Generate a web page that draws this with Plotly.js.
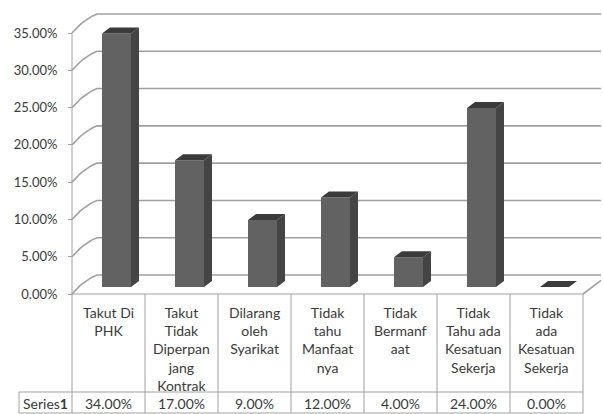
<!DOCTYPE html>
<html>
<head>
<meta charset="utf-8">
<script src="https://cdn.plot.ly/plotly-3.0.1.min.js"></script>
<style>html,body{margin:0;padding:0;background:#fff;}#chart{width:603px;height:414px;}</style>
</head>
<body>
<div id="chart"></div>
<script>
// ---- data ----
const categories = [
  "Takut Di<br>PHK",
  "Takut<br>Tidak<br>Diperpan<br>jang<br>Kontrak",
  "Dilarang<br>oleh<br>Syarikat",
  "Tidak<br>tahu<br>Manfaat<br>nya",
  "Tidak<br>Bermanf<br>aat",
  "Tidak<br>Tahu ada<br>Kesatuan<br>Sekerja",
  "Tidak<br>ada<br>Kesatuan<br>Sekerja"
];
const seriesName = "Series1";
const values = [34, 17, 9, 12, 4, 24, 0];
const yTicks = [0, 5, 10, 15, 20, 25, 30, 35];
const yTickText = yTicks.map(v => v.toFixed(2) + "%");

// ---- geometry helpers (pixel -> data / paper) ----
const W = 603, H = 414;
const PX0 = 72, COL = 73, PY0 = 294, PPU = 7.457;
const xd = px => (px - PX0) / COL - 0.5;
const yd = py => (PY0 - py) / PPU;
const xp = px => px / W;
const yp = py => 1 - py / H;
const ux = px => px / COL;   // pixel length -> x units
const uy = py => py / PPU;   // pixel length -> y units

const BACK_DX = 25, BACK_DY = 19;   // back wall offset
const BAR_DX = 8, BAR_DY = 7;       // bar plane offset
const BAR_W = 29;                   // bar face width px
const DEP_DX = 8, DEP_DY = 6;       // bar depth

const FONT = "Lato, 'Open Sans', sans-serif";
const TXT = "#3a3a3a";
const GRID = "#a0a0a0";
const TLINE = "#a0a0a0";
const T_RIGHT = PX0 + COL * categories.length;

// back-wall gridlines + side-wall curves + right floor edge (first trace, underneath the columns)
const gx = [], gy = [];
yTicks.forEach(v => {
  const by = v + uy(BACK_DY);
  const p0 = [xd(PX0), v], c = [xd(PX0 + 12), v + uy(14)], p2 = [xd(PX0 + BACK_DX), by];
  for (let k = 0; k <= 12; k++) {
    const t = k / 12, a = (1 - t) * (1 - t), b = 2 * (1 - t) * t, d = t * t;
    gx.push(a * p0[0] + b * c[0] + d * p2[0]);
    gy.push(a * p0[1] + b * c[1] + d * p2[1]);
  }
  gx.push(xd(W - 2)); gy.push(by);
  gx.push(null); gy.push(null);
});
gx.push(xd(T_RIGHT), xd(W - 2)); gy.push(0, uy(BACK_DY * (W - 2 - T_RIGHT) / BACK_DX));
const gridTrace = {type: "scatter", mode: "lines", x: gx, y: gy,
  line: {color: GRID, width: 1.6}, hoverinfo: "skip", showlegend: false, connectgaps: false};

// column faces: front, side, top (computed from the values, drawn on the axes)
const fx = [], fy = [], sx = [], sy = [], tx = [], ty = [];
values.forEach((v, i) => {
  const xl = i + ux(BAR_DX) - ux(BAR_W) / 2;
  const xr = i + ux(BAR_DX) + ux(BAR_W) / 2;
  const b = uy(BAR_DY);
  const t = b + v;
  const ddx = ux(DEP_DX), ddy = uy(DEP_DY);
  fx.push(xl, xr, xr, xl, xl, null);
  fy.push(b, b, t, t, b, null);
  sx.push(xr, xr + ddx, xr + ddx, xr, xr, null);
  sy.push(b, b + ddy, t + ddy, t, b, null);
  tx.push(xl, xl + ddx, xr + ddx, xr, xl, null);
  ty.push(t, t + ddy, t + ddy, t, t, null);
});
const frontTrace = {type: "scatter", mode: "lines", x: fx, y: fy, fill: "toself",
  fillcolor: "#626262", line: {width: 0, color: "#626262"}, hoverinfo: "skip", showlegend: false};
const sideTrace = {type: "scatter", mode: "lines", x: sx, y: sy, fill: "toself",
  fillcolor: "#444444", line: {width: 0, color: "#444444"}, hoverinfo: "skip", showlegend: false};
const topTrace = {type: "scatter", mode: "lines", x: tx, y: ty, fill: "toself",
  fillcolor: "#3b3b3b", line: {width: 0, color: "#3b3b3b"}, hoverinfo: "skip", showlegend: false};

// ---- shapes ----
const shapes = [];
shapes.push({type: "line", xref: "x", yref: "y", x0: xd(PX0), x1: xd(PX0), y0: 0, y1: yTicks[yTicks.length - 1],
  line: {color: TLINE, width: 1}});
shapes.push({type: "line", xref: "x", yref: "y", x0: xd(PX0), x1: xd(T_RIGHT), y0: 0, y1: 0,
  line: {color: TLINE, width: 1}});

// table
const T_TOP = 294, T_SEP = 392, T_BOT = 413, T_LEFT = 19;
for (let k = 0; k <= categories.length; k++) {
  const x = PX0 + COL * k;
  shapes.push({type: "line", xref: "paper", yref: "paper", x0: xp(x), x1: xp(x), y0: yp(T_TOP), y1: yp(T_BOT),
    line: {color: TLINE, width: 1}});
}
shapes.push({type: "line", xref: "paper", yref: "paper", x0: xp(T_LEFT), x1: xp(T_RIGHT), y0: yp(T_SEP), y1: yp(T_SEP),
  line: {color: TLINE, width: 1}});
shapes.push({type: "line", xref: "paper", yref: "paper", x0: xp(T_LEFT), x1: xp(T_RIGHT), y0: yp(T_BOT), y1: yp(T_BOT),
  line: {color: TLINE, width: 1}});
shapes.push({type: "line", xref: "paper", yref: "paper", x0: xp(T_LEFT), x1: xp(T_LEFT), y0: yp(T_SEP), y1: yp(T_BOT),
  line: {color: TLINE, width: 1}});

// ---- annotations ----
const annotations = [];
categories.forEach((c, i) => {
  annotations.push({xref: "x", yref: "paper", x: i, y: yp(302), yanchor: "top", xanchor: "center",
    text: c, showarrow: false, align: "center", font: {family: FONT, size: 14, color: TXT}});
  annotations.push({xref: "x", yref: "paper", x: i, y: yp(403), yanchor: "middle", xanchor: "center",
    text: values[i].toFixed(2) + "%", showarrow: false, font: {family: FONT, size: 14, color: TXT}});
});
annotations.push({xref: "paper", yref: "paper", x: xp((T_LEFT + PX0) / 2), y: yp(403), yanchor: "middle", xanchor: "center",
  text: seriesName.replace(/(\d+)$/, "<b>$1</b>"), showarrow: false, font: {family: FONT, size: 14, color: TXT}});

const layout = {
  width: W, height: H,
  margin: {l: 0, r: 0, t: 0, b: 0, pad: 0},
  paper_bgcolor: "#fff", plot_bgcolor: "#fff",
  showlegend: false,
  xaxis: {range: [xd(0), xd(W)], visible: false, fixedrange: true, domain: [0, 1]},
  yaxis: {range: [yd(H), yd(0)], anchor: "free", position: PX0 / W, domain: [0, 1],
    tickmode: "array", tickvals: yTicks, ticktext: yTickText,
    showgrid: false, zeroline: false, showline: false,
    ticks: "outside", ticklen: 4, tickcolor: TLINE, tickwidth: 1,
    ticklabelstandoff: 8,
    tickfont: {family: FONT, size: 13, color: TXT}, fixedrange: true},
  shapes: shapes,
  annotations: annotations
};

Plotly.newPlot("chart", [gridTrace, frontTrace, sideTrace, topTrace], layout, {staticPlot: true, displayModeBar: false});
</script>
</body>
</html>
